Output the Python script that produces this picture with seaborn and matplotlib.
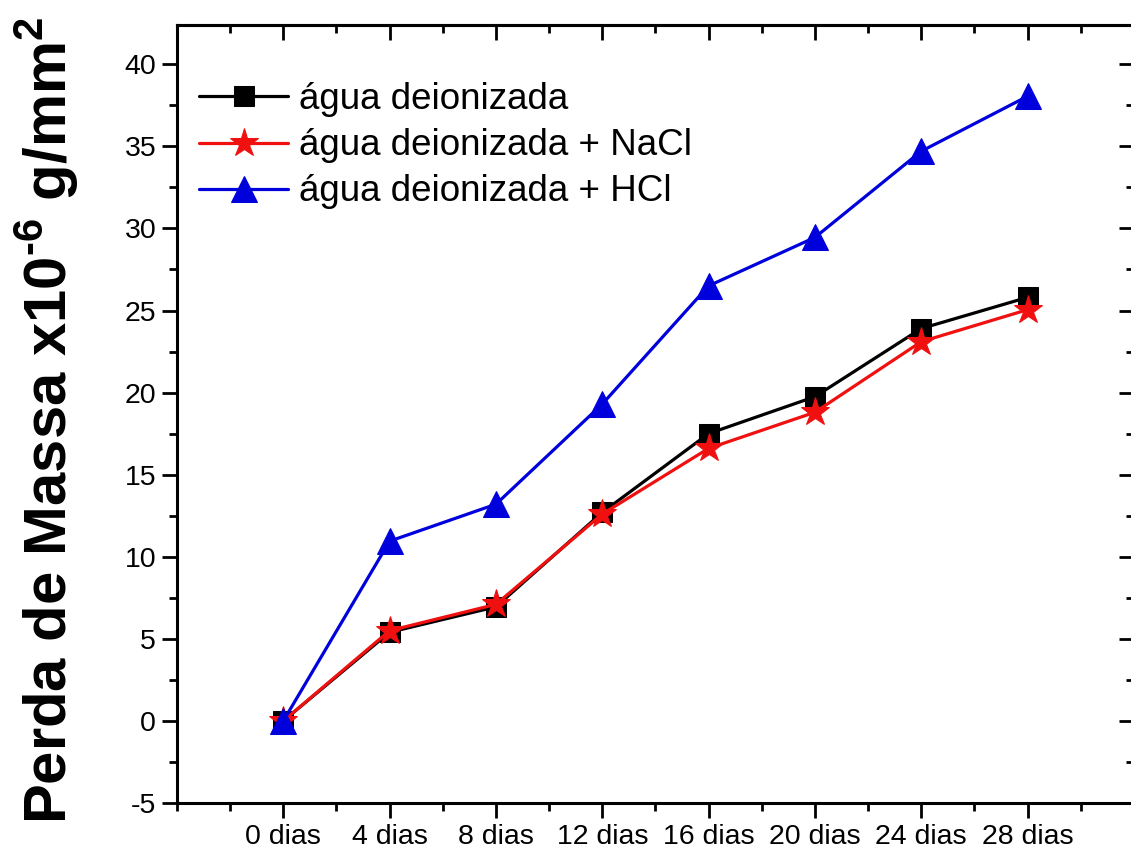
import matplotlib
matplotlib.use('Agg')
import matplotlib.pyplot as plt
import numpy as np
import seaborn as sns
from matplotlib.ticker import MultipleLocator

# dados
dias = ['0 dias', '4 dias', '8 dias', '12 dias', '16 dias', '20 dias', '24 dias', '28 dias']
agua = [0.0, 5.4, 6.95, 12.7, 17.5, 19.75, 23.9, 25.8]
agua_nacl = [0.0, 5.5, 7.1, 12.6, 16.6, 18.8, 23.1, 25.05]
agua_hcl = [0.0, 10.95, 13.2, 19.3, 26.5, 29.45, 34.7, 38.05]
nomes = ['água deionizada', 'água deionizada + NaCl', 'água deionizada + HCl']

sns.set_style('ticks')
plt.rcParams['font.family'] = ['Liberation Sans', 'DejaVu Sans']
plt.rcParams['mathtext.fontset'] = 'custom'
plt.rcParams['mathtext.rm'] = 'Liberation Sans:bold'
plt.rcParams['mathtext.bf'] = 'Liberation Sans:bold'
plt.rcParams['axes.unicode_minus'] = False
plt.rcParams['text.color'] = 'black'
plt.rcParams['axes.labelcolor'] = 'black'
plt.rcParams['xtick.color'] = 'black'
plt.rcParams['ytick.color'] = 'black'
plt.rcParams['axes.edgecolor'] = 'black'

fig = plt.figure(figsize=(11.31, 8.57), dpi=100)
ax = fig.add_axes([0.1565, 0.063, 0.846, 0.908])

x = np.arange(len(dias))
series = [
    (agua, 'black', 's', 15, 1),
    (agua_nacl, '#f01010', '*', 21, 2),
    (agua_hcl, '#0000dc', '^', 19, 3),
]
for (vals, cor, mk, ms, z), nome in zip(series, nomes):
    sns.lineplot(x=x, y=vals, ax=ax, color=cor, marker=mk, markersize=ms,
                 markeredgecolor=cor, linewidth=2.3, label=nome, zorder=z)

ax.set_xlim(-1, 8)
ax.set_ylim(-5, 42.4)
ax.set_xticks(x)
ax.set_xticklabels(dias)
ax.xaxis.set_minor_locator(MultipleLocator(0.5))
ax.set_yticks(np.arange(-5, 41, 5))
ax.yaxis.set_minor_locator(MultipleLocator(2.5))

ax.tick_params(which='major', length=11, width=2, labelsize=20.5, direction='out', pad=4)
ax.tick_params(which='minor', length=6, width=2, direction='out')
for s in ax.spines.values():
    s.set_linewidth(2.2)

# eixos de cima e da direita com ticks para dentro
top = ax.secondary_xaxis('top')
top.set_xticks(x)
top.xaxis.set_minor_locator(MultipleLocator(0.5))
top.tick_params(which='major', direction='in', length=11, width=2, labeltop=False)
top.tick_params(which='minor', direction='in', length=6, width=2)
top.spines['top'].set_linewidth(2.2)
right = ax.secondary_yaxis('right')
right.set_yticks(np.arange(-5, 41, 5))
right.yaxis.set_minor_locator(MultipleLocator(2.5))
right.tick_params(which='major', direction='in', length=11, width=2, labelright=False)
right.tick_params(which='minor', direction='in', length=6, width=2)

ax.set_xlabel('')
ax.set_ylabel(r'Perda de Massa x10$^{\text{-6}}$ g/mm$^{2}$', fontsize=43, fontweight='bold')
ax.yaxis.set_label_coords(-0.1, 0.492)

leg = ax.legend(loc='upper left', frameon=False, fontsize=26.5, handlelength=2.4,
                handletextpad=0.3, labelspacing=0.3, borderaxespad=0.0,
                bbox_to_anchor=(0.008, 0.945), numpoints=1)

fig.savefig('out.png', dpi=100)
